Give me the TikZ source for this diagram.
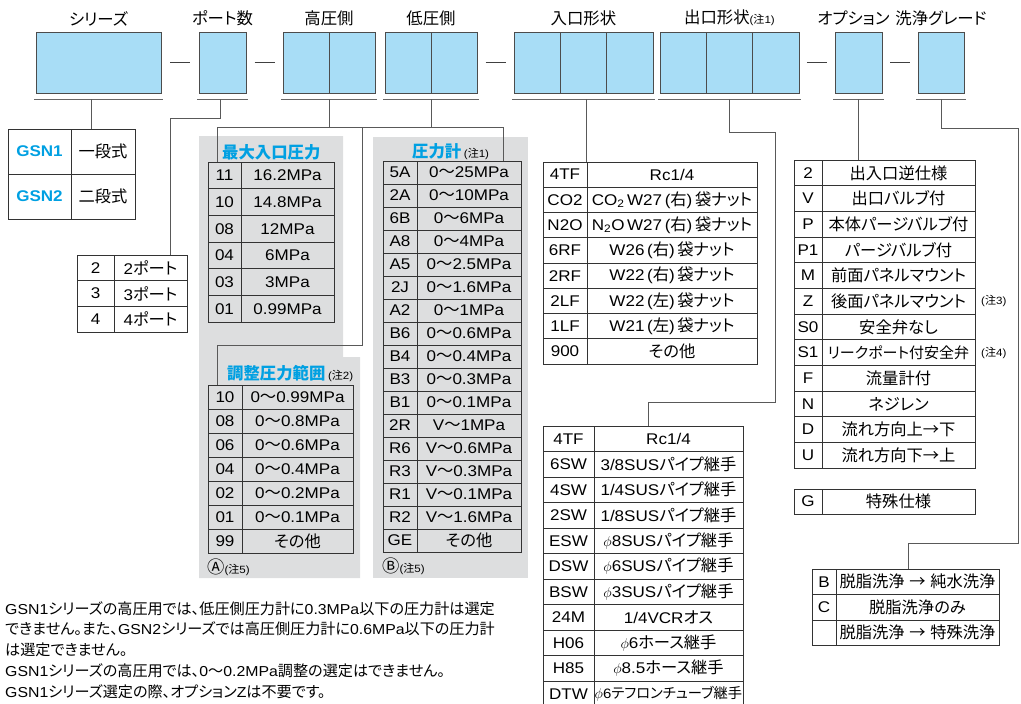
\documentclass[tikz,border=0pt]{standalone}
\usepackage{fontspec}
\setmainfont{Liberation Sans}[FakeStretch=1.1]
\newfontfamily\jp{Noto Sans CJK JP}[Scale=1.05, RawFeature={+palt}]
\usetikzlibrary{positioning,calc}

% Japanese runs switch to Noto Sans CJK JP
\XeTeXinterchartokenstate=1
\newXeTeXintercharclass\jpclass
\newcount\jpcnt
\newcommand\jprange[2]{\jpcnt=#1\relax
  \loop\XeTeXcharclass\jpcnt=\jpclass
  \ifnum\jpcnt<#2\relax\advance\jpcnt by 1\repeat}
\jprange{"2190}{"21FF}
\jprange{"2460}{"24FF}
\jprange{"3000}{"30FF}
\jprange{"4E00}{"9FFF}
\jprange{"FF00}{"FFEF}
\XeTeXinterchartoks 0 \jpclass = {\begingroup\jp}
\XeTeXinterchartoks 4095 \jpclass = {\begingroup\jp}
\XeTeXinterchartoks \jpclass 0 = {\endgroup}
\XeTeXinterchartoks \jpclass 4095 = {\endgroup}

\definecolor{slotblue}{RGB}{168,221,246}
\definecolor{ttlblue}{RGB}{0,160,226}
\definecolor{panelgray}{RGB}{221,222,223}

\newcommand\hdfont{\fontsize{15.6}{19}\selectfont}
\newcommand\tbfont{\fontsize{15.5}{18}\selectfont}
\newcommand\smfont{\fontsize{14.3}{16}\selectfont}
\newcommand\ttlfont{\fontsize{15.6}{20}\selectfont\bfseries}
\newcommand\ntfont{\fontsize{10.5}{12}\selectfont}
\newcommand\gsn{\color{ttlblue}\bfseries}

\tikzset{
	slot/.style={draw=black!70, fill=slotblue, line width=0.7pt, minimum height=61pt, inner sep=0pt, outer sep=0pt},
	hd/.style={font=\hdfont, inner sep=0pt},
	dsh/.style={draw=black!75, line width=0.8pt},
	uln/.style={draw=black!60, line width=0.8pt},
	conn/.style={draw=black!65, line width=0.8pt},
	cd/.style={draw=black!80, line width=0.6pt, inner sep=0pt, outer sep=0pt, anchor=north west, font=\tbfont},
	vl/.style={cd, anchor=west},
	ttl/.style={anchor=west, inner sep=0pt, text=ttlblue, font=\ttlfont},
	nt/.style={anchor=west, inner sep=0pt, font=\ntfont},
	panel/.style={fill=panelgray}
}

% name, x, y, code width, value width, row height, rows
\newcommand{\spectbl}[7]{%
	\foreach \code/\val [count=\i] in {#7} {
		\node[cd, minimum width=#4pt, minimum height=#6pt] (#1-\i) at (#2, {#3+(\i-1)*#6}) {\code};
		\node[vl, minimum width=#5pt, minimum height=#6pt] (#1-\i-v) at (#1-\i.east) {\val};
	}%
}

\begin{document}
\begin{tikzpicture}[x=1pt, y=-1pt]
	\useasboundingbox (0,0) rectangle (1021,704);

	% grey panels
	\fill[panel] (199,136) -- (343,136) -- (343,357) -- (360,357) -- (360,578) -- (199,578) -- cycle;
	\fill[panel] (373,137) rectangle (528,578);

	% model code slots
	\node[slot, minimum width=125pt, anchor=north west] (ser) at (36,32) {};
	\node[slot, minimum width=47pt, anchor=north west] (port) at (199,32) {};
	\node[slot, minimum width=46pt, anchor=north west] (hi1) at (283,32) {};
	\node[slot, minimum width=46pt, right=0pt of hi1] (hi2) {};
	\node[slot, minimum width=46pt, anchor=north west] (lo1) at (385,32) {};
	\node[slot, minimum width=46pt, right=0pt of lo1] (lo2) {};
	\node[slot, minimum width=46.3pt, anchor=north west] (in1) at (514,32) {};
	\node[slot, minimum width=46.3pt, right=0pt of in1] (in2) {};
	\node[slot, minimum width=46.3pt, right=0pt of in2] (in3) {};
	\node[slot, minimum width=46.3pt, anchor=north west] (out1) at (660,32) {};
	\node[slot, minimum width=46.3pt, right=0pt of out1] (out2) {};
	\node[slot, minimum width=46.3pt, right=0pt of out2] (out3) {};
	\node[slot, minimum width=47pt, anchor=north west] (opt) at (835,32) {};
	\node[slot, minimum width=46pt, anchor=north west] (cln) at (918,32) {};

	\node[hd, above=6pt of ser] (serH) {シリーズ};
	\node[hd, above=6pt of port] (portH) {ポート数};
	\node[hd, above=6pt of hi1.north east] (hiH) {高圧側};
	\node[hd, above=6pt of lo1.north east] (loH) {低圧側};
	\node[hd, above=6pt of in2] (inH) {入口形状};
	\node[hd, above=6pt of out2] (outH) {出口形状{\ntfont(注1)}};
	\node[hd, above=6pt of opt, xshift=-5pt] (optH) {オプション};
	\node[hd, above=6pt of cln] (clnH) {洗浄グレード};

	\foreach \a/\b in {ser/port, port/hi1, lo2/in1, out3/opt, opt/cln}
		\draw[dsh] ($(\a.east)!0.5!(\b.west)$) ++(-10,0) -- ++(20,0);
	\foreach \a/\b in {ser/ser, port/port, hi1/hi2, lo1/lo2, in1/in3, out1/out3, opt/opt, cln/cln}
		\draw[uln] ([xshift=-2pt,yshift=-6pt]\a.south west) -- ([xshift=2pt,yshift=-6pt]\b.south east);

	% tables
	\spectbl{gs}{8}{129}{63}{64}{45}{{\gsn GSN1}/一段式, {\gsn GSN2}/二段式}
	\spectbl{pt}{77}{255}{37}{73}{25.67}{2/2ポート, 3/3ポート, 4/4ポート}
	\spectbl{mx}{208}{162}{33}{93}{26.67}{11/16.2MPa, 10/14.8MPa, 08/12MPa, 04/6MPa, 03/3MPa, 01/0.99MPa}
	\spectbl{aj}{208}{385}{34}{111}{24}{10/0〜0.99MPa, 08/0〜0.8MPa, 06/0〜0.6MPa, 04/0〜0.4MPa, 02/0〜0.2MPa, 01/0〜0.1MPa, 99/その他}
	\spectbl{pg}{383}{161}{34}{104}{23}{5A/0〜25MPa, 2A/0〜10MPa, 6B/0〜6MPa, A8/0〜4MPa, A5/0〜2.5MPa, 2J/0〜1.6MPa, A2/0〜1MPa, B6/0〜0.6MPa, B4/0〜0.4MPa, B3/0〜0.3MPa, B1/0〜0.1MPa, 2R/V〜1MPa, R6/V〜0.6MPa, R3/V〜0.3MPa, R1/V〜0.1MPa, R2/V〜1.6MPa, GE/その他}
	\spectbl{it}{543}{162}{44}{170}{25.25}{4TF/{Rc1/4}, CO2/{CO\textsubscript{2}\,W27\,(右)\,袋ナット}, N2O/{N\textsubscript{2}O\,W27\,(右)\,袋ナット}, 6RF/{W26\,(右)\,袋ナット}, 2RF/{W22\,(右)\,袋ナット}, 2LF/{W22\,(左)\,袋ナット}, 1LF/{W21\,(左)\,袋ナット}, 900/その他}
	\spectbl{ot}{543}{426}{51}{149}{25.5}{4TF/{Rc1/4}, 6SW/{3/8SUSパイプ継手}, 4SW/{1/4SUSパイプ継手}, 2SW/{1/8SUSパイプ継手}, ESW/{$\phi$8SUSパイプ継手}, DSW/{$\phi$6SUSパイプ継手}, BSW/{$\phi$3SUSパイプ継手}, 24M/{1/4VCRオス}, H06/{$\phi$6ホース継手}, H85/{$\phi$8.5ホース継手}, DTW/{{\fontsize{13.6}{16}\selectfont$\phi$6テフロンチューブ継手}}}
	\spectbl{op}{794}{160}{28}{153}{25.67}{2/出入口逆仕様, V/出口バルブ付, P/本体パージバルブ付, P1/パージバルブ付, M/前面パネルマウント, Z/後面パネルマウント, S0/安全弁なし, S1/{{\smfont リークポート付安全弁}}, F/流量計付, N/ネジレン, D/流れ方向上→下, U/流れ方向下→上}
	\spectbl{sp}{794}{489}{28}{153}{25}{G/特殊仕様}
	\spectbl{cl}{812}{569}{24}{163}{25.5}{B/脱脂洗浄 → 純水洗浄, C/脱脂洗浄のみ, {}/脱脂洗浄 → 特殊洗浄}

	\node[ttl] (mxT) at (222,152) {最大入口圧力};
	\node[ttl] (pgT) at (412,152) {圧力計\,{\ntfont\mdseries\color{black}(注1)}};
	\node[ttl] (ajT) at (227,373) {調整圧力範囲\,{\ntfont\mdseries\color{black}(注2)}};
	\node[nt] (ajN) at (207,567) {{\fontsize{16.5}{16}\selectfont Ⓐ}(注5)};
	\node[nt] (pgN) at (382,566) {{\fontsize{16.5}{16}\selectfont Ⓑ}(注5)};
	\node[nt] (zN) at ([xshift=6pt]op-6-v.east) {(注3)};
	\node[nt] (sN) at ([xshift=6pt]op-8-v.east) {(注4)};

	% connectors
	\coordinate (serU) at ([xshift=-7.5pt,yshift=-6pt]ser.south);
	\coordinate (portU) at ([xshift=-2.5pt,yshift=-6pt]port.south);
	\coordinate (hiU) at ([yshift=-6pt]hi1.south east);
	\coordinate (loU) at ([yshift=-6pt]lo1.south east);
	\coordinate (inU) at ([xshift=2.5pt,yshift=-6pt]in2.south);
	\coordinate (outU) at ([yshift=-6pt]out2.south);
	\coordinate (optU) at ([yshift=-6pt]opt.south);
	\coordinate (clnU) at ([yshift=-6pt]cln.south);
	\coordinate (pj) at (170,118);
	\coordinate (bus) at (217,127);
	\coordinate (busE) at (503,127);
	\coordinate (adjT) at (362,345);
	\coordinate (ob1) at (775,132);
	\coordinate (ob2) at (648,402);
	\coordinate (cb1) at (1018,128);
	\coordinate (cb2) at (908,543);

	\draw[conn] (serU) -- (serU |- gs-1.north);
	\draw[conn] (portU) |- (pj) -- (pj |- pt-1.north);
	\draw[conn] (hiU) -- (hiU |- bus);
	\draw[conn] (loU) -- (loU |- bus);
	\draw[conn] (bus |- mx-1.north) -- (bus) -- (busE) -- (busE |- pg-1.north);
	\draw[conn] (adjT |- bus) -- (adjT) -| (bus |- aj-1.north);
	\draw[conn] (inU) -- (inU |- it-1.north);
	\draw[conn] (outU) |- (ob1) |- (ob2) -- (ob2 |- ot-1.north);
	\draw[conn] (optU) -- (optU |- op-1.north);
	\draw[conn] (clnU) |- (cb1) |- (cb2) -- (cb2 |- cl-1.north);

	% notes
	\node[anchor=north west, inner sep=0pt, align=left, font=\fontsize{14.4}{20.8}\selectfont] (notes) at (5,601) {GSN1シリーズの高圧用では、低圧側圧力計に0.3MPa以下の圧力計は選定\\できません。また、GSN2シリーズでは高圧側圧力計に0.6MPa以下の圧力計\\は選定できません。\\GSN1シリーズの高圧用では、0〜0.2MPa調整の選定はできません。\\GSN1シリーズ選定の際、オプションZは不要です。};
\end{tikzpicture}
\end{document}
